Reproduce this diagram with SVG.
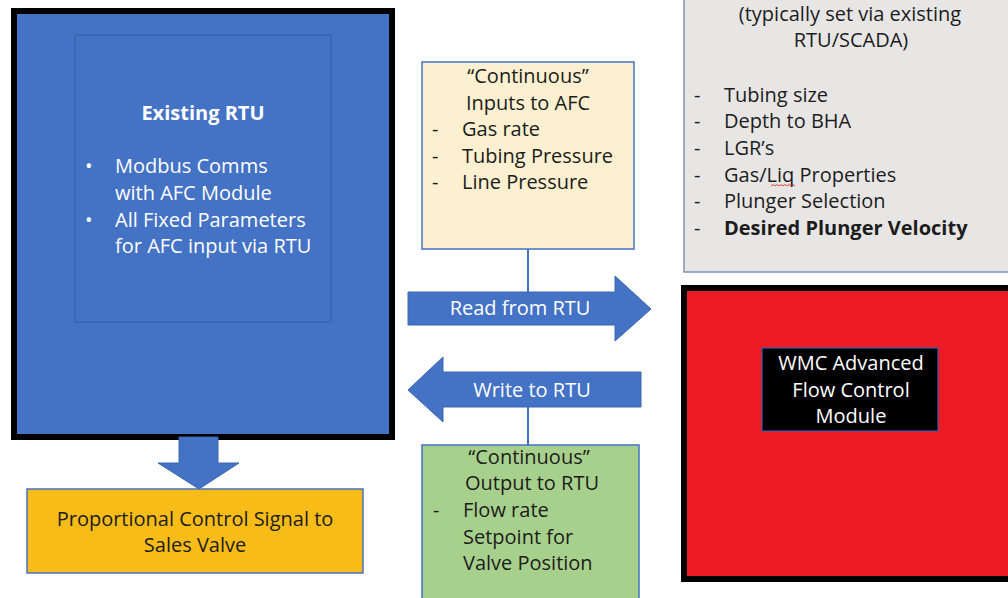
<svg xmlns="http://www.w3.org/2000/svg" width="1008" height="598" viewBox="0 0 1008 598">
<style>
text{font-family:"Open Sans","Noto Sans",sans-serif;font-size:20px;fill:#1c1c1c}
.w{fill:#ffffff}
.b{font-weight:bold}
.m{text-anchor:middle}
.arrow{fill:#4472C4;stroke:#3d66b0;stroke-width:1}
.box{stroke:#4472C4;stroke-width:1.5}
.ln{stroke:#4472C4;stroke-width:2;fill:none}
</style>
<rect width="1008" height="598" fill="#ffffff"/>
<g id="connectors">
<line class="ln" x1="528" y1="249" x2="528" y2="293"/>
<line class="ln" x1="528" y1="407" x2="528" y2="445"/>
</g>
<g id="existing-rtu">
<rect x="14" y="11" width="378" height="426" fill="#4472C4" stroke="#000" stroke-width="6"/>
<rect x="75" y="35" width="256" height="287" fill="#4472C4" stroke="#3a62ad" stroke-width="1.2"/>
<text class="w b m" x="203" y="120">Existing RTU</text>
<text class="w" x="85" y="173">•</text>
<text class="w" x="115" y="173">Modbus Comms</text>
<text class="w" x="115" y="200">with AFC Module</text>
<text class="w" x="85" y="227">•</text>
<text class="w" x="115" y="227">All Fixed Parameters</text>
<text class="w" x="115" y="253">for AFC input via RTU</text>
</g>
<g id="down-arrow">
<polygon class="arrow" points="179,437 218,437 218,463 239,463 199,489 158,463 179,463"/>
</g>
<g id="sales-valve">
<rect class="box" x="27" y="489" width="336" height="84" fill="#F8BC18"/>
<text class="m" x="195" y="526">Proportional Control Signal to</text>
<text class="m" x="195" y="552">Sales Valve</text>
</g>
<g id="inputs">
<rect class="box" x="422" y="62" width="212" height="187" fill="#FDF0D0"/>
<text class="m" x="528" y="83">“Continuous”</text>
<text class="m" x="528" y="110">Inputs to AFC</text>
<text x="432" y="136">-</text><text x="462" y="136">Gas rate</text>
<text x="432" y="163">-</text><text x="462" y="163">Tubing Pressure</text>
<text x="432" y="189">-</text><text x="462" y="189">Line Pressure</text>
</g>
<g id="read-arrow">
<polygon class="arrow" points="408,292 615,292 615,276 651,309 615,341 615,325 408,325"/>
<text class="w m" x="520" y="315">Read from RTU</text>
</g>
<g id="write-arrow">
<polygon class="arrow" points="641,372 443,372 443,357 408,390 443,422 443,407 641,407"/>
<text class="w m" x="532" y="397">Write to RTU</text>
</g>
<g id="outputs">
<rect class="box" x="422" y="445" width="217" height="160" fill="#A8D08D"/>
<text class="m" x="529" y="464">“Continuous”</text>
<text class="m" x="532" y="490">Output to RTU</text>
<text x="433" y="517">-</text><text x="463" y="517">Flow rate</text>
<text x="463" y="544">Setpoint for</text>
<text x="463" y="570">Valve Position</text>
</g>
<g id="fixed-params">
<rect x="684" y="-20" width="340" height="292" fill="#E8E6E5" stroke="#7f93b5" stroke-width="1.5"/>
<text class="m" x="850" y="21">(typically set via existing</text>
<text class="m" x="851" y="47">RTU/SCADA)</text>
<text x="694" y="102">-</text><text x="724" y="102">Tubing size</text>
<text x="694" y="128">-</text><text x="724" y="128">Depth to BHA</text>
<text x="694" y="155">-</text><text x="724" y="155">LGR’s</text>
<text x="694" y="182">-</text><text x="724" y="182">Gas/Liq Properties</text>
<path d="M771,186 l2,-1.5 l2,1.5 l2,-1.5 l2,1.5 l2,-1.5 l2,1.5 l2,-1.5 l2,1.5 l2,-1.5 l2,1.5 l2,-1.5 l2,1.5" fill="none" stroke="#e02020" stroke-width="0.8"/>
<text x="694" y="208">-</text><text x="724" y="208">Plunger Selection</text>
<text x="694" y="235">-</text><text class="b" x="724" y="235">Desired Plunger Velocity</text>
</g>
<g id="afc-module">
<rect x="684" y="288" width="340" height="291" fill="#ED1C24" stroke="#000" stroke-width="6"/>
<rect x="762" y="348" width="176" height="83" fill="#000" stroke="#3b5cab" stroke-width="1.2"/>
<text class="w m" x="851" y="370">WMC Advanced</text>
<text class="w m" x="851" y="397">Flow Control</text>
<text class="w m" x="851" y="423">Module</text>
</g>
</svg>
